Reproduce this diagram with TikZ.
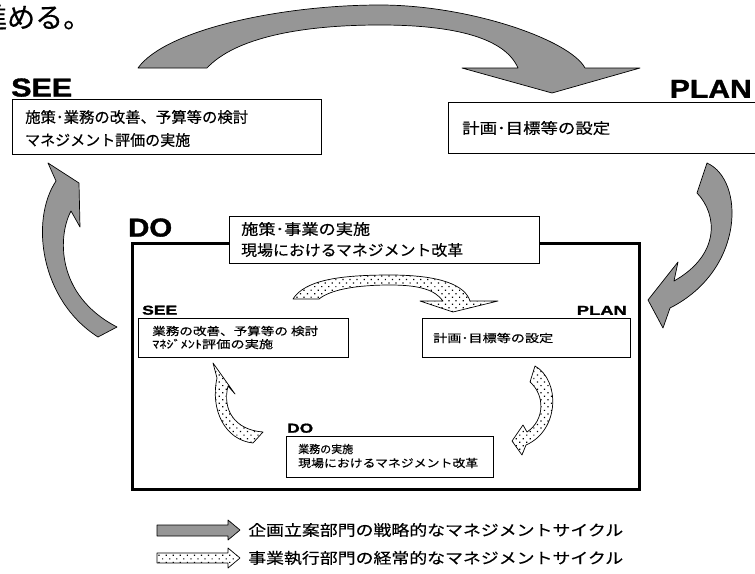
\documentclass[tikz,border=0pt]{standalone}
\usepackage{fontspec}
\setmainfont{Liberation Sans}
\newfontfamily\jp[FakeBold=0.4]{Noto Sans CJK JP}
\newfontfamily\heavy[FakeBold=1.2]{Liberation Sans}
\usetikzlibrary{patterns.meta}
\definecolor{agray}{RGB}{150,150,150}
\newcommand\fitw[2]{\resizebox{#1}{\height}{#2}}
\begin{document}
\begin{tikzpicture}[x=1pt,y=-1pt,
  box/.style={draw, line width=0.9pt, inner sep=0pt, anchor=north west},
  jt/.style={anchor=west, inner sep=0pt, font=\jp\fontsize{15}{15}\selectfont},
  jts/.style={anchor=west, inner sep=0pt, font=\jp\fontsize{11}{11}\selectfont},
  biglab/.style={inner sep=0pt, font=\heavy\bfseries\fontsize{26}{26}\selectfont},
  smlab/.style={inner sep=0pt, font=\heavy\bfseries\fontsize{13}{13}\selectfont},
  garrow/.style={fill=agray, draw=black, line width=0.7pt, line join=round},
  darrow/.style={draw=black, line width=0.7pt, line join=round,
    pattern={Dots[distance=5pt,angle=45,radius=0.85pt]}},
]
\useasboundingbox (0,0) rectangle (755,573);
\clip (0,0) rectangle (755,573);

% heading fragment
\node[anchor=west, inner sep=0pt, font=\jp\fontsize{28}{28}\selectfont] (head) at (-21,17) {進める。};

% outer SEE
\node[biglab, anchor=south west] (seelab) at (11,97) {\fitw{61pt}{SEE}};
\node[box, minimum width=309pt, minimum height=55pt] (seebox) at (12,99) {};
\node[jt] (see1) at (25,117) {\fitw{223pt}{施策･業務の改善、予算等の検討}};
\node[jt] (see2) at (25,140) {マネジメント評価の実施};

% outer PLAN
\node[biglab, anchor=south east] (planlab) at (752,98) {\fitw{82pt}{PLAN}};
\node[box, minimum width=320pt, minimum height=51pt] (planbox) at (448,102) {};
\node[jt] (plan1) at (462,128) {\fitw{148pt}{計画･目標等の設定}};

% big top arrow
\draw[garrow] (138,68) .. controls (165,30) and (280,5) .. (380,5)
  .. controls (470,5) and (570,40) .. (585,68) -- (640,68) -- (552,93) -- (462,68) -- (518,68)
  .. controls (505,38) and (455,25) .. (380,25)
  .. controls (300,25) and (235,38) .. (207,68) -- cycle;

% left gray arrow
\draw[garrow] (48,163) -- (79,183) -- (80,227) -- (71,211)
  .. controls (58,235) and (55,295) .. (117,327) -- (98,337)
  .. controls (40,300) and (30,220) .. (56,181) -- cycle;

% right gray arrow
\draw[garrow] (697,193) -- (707,163) .. controls (745,180) and (745,270) .. (670,308)
  -- (663,328) -- (648,300) -- (678,262) -- (674,281)
  .. controls (720,255) and (718,215) .. (697,193) -- cycle;

% DO outer box
\node[biglab, anchor=south west] (dolab) at (128,237) {\fitw{44pt}{DO}};
\node[draw, line width=3pt, inner sep=0pt, anchor=north west, minimum width=507pt, minimum height=246pt] (dobox) at (131,242) {};
\node[box, fill=white, minimum width=310pt, minimum height=47pt] (dotitle) at (229,216) {};
\node[jt] (do1) at (241,229) {\fitw{129pt}{施策･事業の実施}};
\node[jt] (do2) at (241,250) {\fitw{222pt}{現場におけるマネジメント改革}};

% inner top dotted arrow
\draw[darrow] (293,299) .. controls (305,280) and (340,275) .. (390,275)
  .. controls (440,275) and (465,285) .. (470,301) -- (498,301) -- (453,312) -- (420,301) -- (443,301)
  .. controls (435,290) and (420,285) .. (390,285)
  .. controls (355,285) and (330,290) .. (319,299) -- cycle;

% inner SEE
\node[smlab, anchor=south west] (isee) at (142,315) {\fitw{35pt}{SEE}};
\node[box, minimum width=210pt, minimum height=39pt] (iseebox) at (138,318) {};
\node[jts] (isee1) at (152,331) {\fitw{166pt}{業務の改善、予算等の 検討}};
\node[jts] (isee2) at (152,344) {\fitw{121pt}{ﾏﾈｼﾞﾒﾝﾄ評価の実施}};

% inner PLAN
\node[smlab, anchor=south east] (iplan) at (627,315) {\fitw{50pt}{PLAN}};
\node[box, minimum width=208pt, minimum height=39pt] (iplanbox) at (422,318) {};
\node[jts] (iplan1) at (433,338) {\fitw{120pt}{計画･目標等の設定}};

% inner DO
\node[smlab, anchor=south west] (ido) at (287,433) {\fitw{26pt}{DO}};
\node[box, minimum width=207pt, minimum height=41pt] (idobox) at (286,436) {};
\node[jts] (ido1) at (298,449) {業務の実施};
\node[jts] (ido2) at (298,463) {\fitw{180pt}{現場におけるマネジメント改革}};

% inner left dotted arrow
\draw[darrow] (213,363) -- (235,394) -- (228,386)
  .. controls (222,410) and (235,430) .. (263,432) -- (253,443)
  .. controls (225,440) and (210,410) .. (217,378) -- cycle;

% inner right dotted arrow
\draw[darrow] (530,382) -- (535,366) .. controls (560,380) and (560,430) .. (526,445)
  -- (522,455) -- (512,441) -- (523,425) -- (527,432)
  .. controls (545,420) and (545,395) .. (530,382) -- cycle;

% legend
\draw[garrow] (157,525) -- (228,525) -- (228,520) -- (240,530) -- (228,540) -- (228,536) -- (157,536) -- cycle;
\node[jt] (leg1) at (248,530) {\fitw{375pt}{企画立案部門の戦略的なマネジメントサイクル}};
\draw[darrow] (157,553) -- (228,553) -- (228,548) -- (240,558) -- (228,568) -- (228,563) -- (157,563) -- cycle;
\node[jt] (leg2) at (248,558) {\fitw{375pt}{事業執行部門の経常的なマネジメントサイクル}};
\end{tikzpicture}
\end{document}
